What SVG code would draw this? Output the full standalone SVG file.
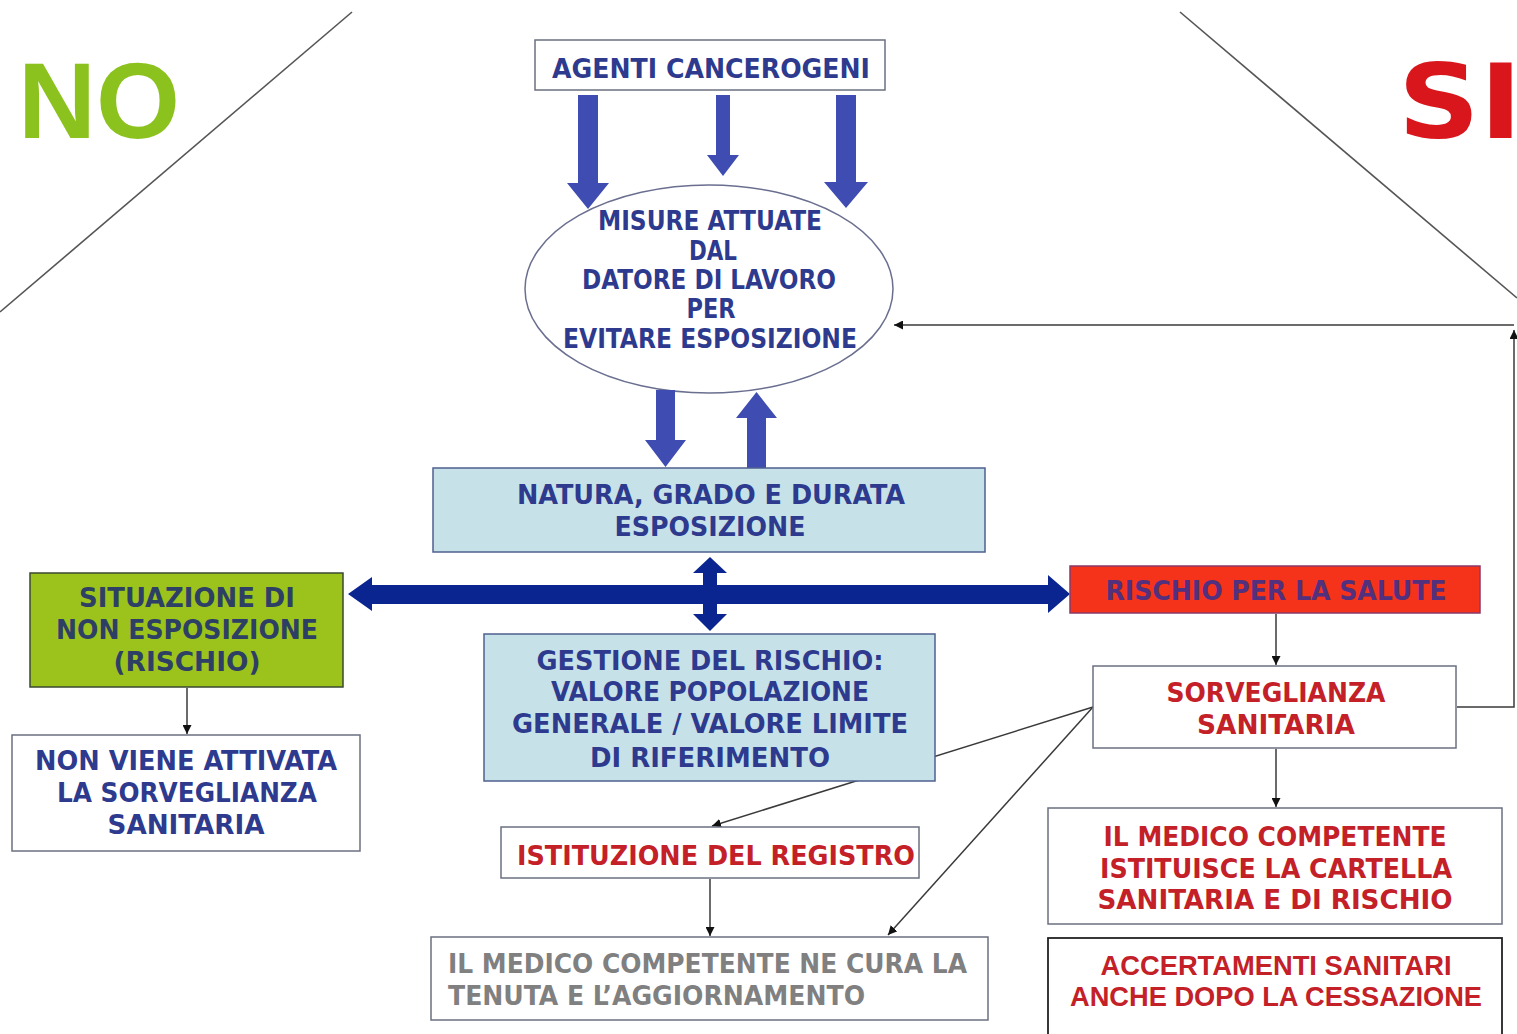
<svg xmlns="http://www.w3.org/2000/svg" width="1517" height="1034" viewBox="0 0 1517 1034">
<defs>
<style>
.bx{fill:#fff;stroke:#6b6f80;stroke-width:1.5}
.lb{fill:#c6e2e8;stroke:#4f6090;stroke-width:1.5}
.t{font-family:"DejaVu Sans Condensed","DejaVu Sans",sans-serif;font-stretch:condensed;font-weight:bold;font-size:27px;text-anchor:middle}
.navy{fill:#2d3a8e}
.red{fill:#c42028}
.gray{fill:#808080}
.big{fill:#3f4cb2}
.dk{fill:#0b2590}
.thin{fill:none;stroke:#3a3a3a;stroke-width:1.5}
.diag{fill:none;stroke:#555;stroke-width:1.6}
</style>
<marker id="ah" viewBox="0 0 10 10" refX="10" refY="5" markerWidth="9" markerHeight="9" markerUnits="userSpaceOnUse" orient="auto">
<path d="M0,0 L10,5 L0,10 z" fill="#111"/>
</marker>
</defs>
<rect width="1517" height="1034" fill="#fff"/>

<g id="decor">
<line class="diag" x1="0" y1="312" x2="352" y2="12"/>
<line class="diag" x1="1180" y1="12" x2="1517" y2="298"/>
<text x="18" y="138" font-family="Liberation Sans, Arial, sans-serif" font-weight="bold" font-size="108" fill="#8cc21e">NO</text>
<text x="1398" y="138" font-family="DejaVu Sans, Verdana, sans-serif" font-weight="bold" font-size="104" fill="#d8161c" textLength="124" lengthAdjust="spacingAndGlyphs">SI</text>
</g>

<g id="misure">
<ellipse cx="709" cy="289" rx="184" ry="104" fill="none" stroke="#6a6f90" stroke-width="1.5"/>
<text class="t navy" font-size="24" x="710" y="230" textLength="224" lengthAdjust="spacingAndGlyphs">MISURE ATTUATE</text>
<text class="t navy" font-size="24" x="713" y="260" textLength="48" lengthAdjust="spacingAndGlyphs">DAL</text>
<text class="t navy" font-size="24" x="709" y="289" textLength="254" lengthAdjust="spacingAndGlyphs">DATORE DI LAVORO</text>
<text class="t navy" font-size="24" x="711" y="318" textLength="49" lengthAdjust="spacingAndGlyphs">PER</text>
<text class="t navy" font-size="24" x="710" y="348" textLength="294" lengthAdjust="spacingAndGlyphs">EVITARE ESPOSIZIONE</text>
</g>

<g id="connectors">
<polygon class="big" points="578,95 598,95 598,183 609,183 588,209 567,183 578,183"/>
<polygon class="big" points="716,95 730,95 730,155 739,155 723,176 707,155 716,155"/>
<polygon class="big" points="836,95 856,95 856,182 868,182 846,208 824,182 836,182"/>
<polygon class="big" points="656,390 675,390 675,440 686,440 665.5,467 645,440 656,440"/>
<polygon class="big" points="747,469 766,469 766,418 777,418 756.5,392 736,418 747,418"/>
<polygon class="dk" points="348,594 372,577 372,585 1048,585 1048,575 1070,594 1048,613 1048,604 372,604 372,611"/>
<polygon class="dk" points="710,557 727,573 717,573 717,614 727,614 710,631 693,614 703,614 703,573 693,573"/>
<line class="thin" x1="187" y1="688" x2="187" y2="734" marker-end="url(#ah)"/>
<line class="thin" x1="1276" y1="614" x2="1276" y2="665" marker-end="url(#ah)"/>
<line class="thin" x1="1276" y1="749" x2="1276" y2="807" marker-end="url(#ah)"/>
<line class="thin" x1="710" y1="879" x2="710" y2="936" marker-end="url(#ah)"/>
<line class="thin" x1="1093" y1="707" x2="712" y2="826" marker-end="url(#ah)"/>
<line class="thin" x1="1093" y1="707" x2="888" y2="935" marker-end="url(#ah)"/>
<path class="thin" d="M1457,707 H1514 V330" marker-end="url(#ah)"/>
<line class="thin" x1="1514" y1="325" x2="894" y2="325" stroke="#777" marker-end="url(#ah)"/>
</g>

<g id="agenti">
<rect class="bx" x="535" y="40" width="350" height="50"/>
<text class="t navy" x="711" y="78" textLength="318" lengthAdjust="spacingAndGlyphs">AGENTI CANCEROGENI</text>
</g>

<g id="natura">
<rect class="lb" x="433" y="468" width="552" height="84"/>
<text class="t navy" x="711" y="504" textLength="388" lengthAdjust="spacingAndGlyphs">NATURA, GRADO  E DURATA</text>
<text class="t navy" x="710" y="536" textLength="191" lengthAdjust="spacingAndGlyphs">ESPOSIZIONE</text>
</g>

<g id="situazione">
<rect x="30" y="573" width="313" height="114" fill="#9cc31c" stroke="#3a4a30" stroke-width="1.5"/>
<text class="t" fill="#2e3f66" x="187" y="607" textLength="216" lengthAdjust="spacingAndGlyphs">SITUAZIONE DI</text>
<text class="t" fill="#2e3f66" x="187" y="639" textLength="262" lengthAdjust="spacingAndGlyphs">NON ESPOSIZIONE</text>
<text class="t" fill="#2e3f66" x="187" y="671" textLength="147" lengthAdjust="spacingAndGlyphs">(RISCHIO)</text>
</g>

<g id="nonviene">
<rect class="bx" x="12" y="735" width="348" height="116"/>
<text class="t navy" x="186" y="770" textLength="302" lengthAdjust="spacingAndGlyphs">NON VIENE ATTIVATA</text>
<text class="t navy" x="187" y="802" textLength="260" lengthAdjust="spacingAndGlyphs">LA SORVEGLIANZA</text>
<text class="t navy" x="186" y="834" textLength="157" lengthAdjust="spacingAndGlyphs">SANITARIA</text>
</g>

<g id="gestione">
<rect class="lb" x="484" y="634" width="451" height="147"/>
<text class="t navy" x="710" y="670" textLength="347" lengthAdjust="spacingAndGlyphs">GESTIONE DEL RISCHIO:</text>
<text class="t navy" x="710" y="701" textLength="318" lengthAdjust="spacingAndGlyphs">VALORE POPOLAZIONE</text>
<text class="t navy" x="710" y="733" textLength="396" lengthAdjust="spacingAndGlyphs">GENERALE / VALORE LIMITE</text>
<text class="t navy" x="710" y="767" textLength="240" lengthAdjust="spacingAndGlyphs">DI RIFERIMENTO</text>
</g>

<g id="rischio">
<rect x="1070" y="566" width="410" height="47" fill="#f5321a" stroke="#8a3a6a" stroke-width="1.5"/>
<text class="t" fill="#52307e" x="1276" y="600" textLength="341" lengthAdjust="spacingAndGlyphs">RISCHIO PER LA SALUTE</text>
</g>

<g id="sorveglianza">
<rect class="bx" x="1093" y="666" width="363" height="82"/>
<text class="t red" x="1276" y="702" textLength="219" lengthAdjust="spacingAndGlyphs">SORVEGLIANZA</text>
<text class="t red" x="1276" y="734" textLength="158" lengthAdjust="spacingAndGlyphs">SANITARIA</text>
</g>

<g id="cartella">
<rect class="bx" x="1048" y="808" width="454" height="116"/>
<text class="t red" x="1275" y="846" textLength="343" lengthAdjust="spacingAndGlyphs">IL MEDICO COMPETENTE</text>
<text class="t red" x="1276" y="878" textLength="352" lengthAdjust="spacingAndGlyphs">ISTITUISCE LA CARTELLA</text>
<text class="t red" x="1275" y="909" textLength="355" lengthAdjust="spacingAndGlyphs">SANITARIA E DI RISCHIO</text>
</g>

<g id="accertamenti">
<rect x="1048" y="938" width="454" height="110" fill="#fff" stroke="#222" stroke-width="1.8"/>
<text x="1276" y="975" font-family="Liberation Sans, Arial, sans-serif" font-weight="bold" font-size="28" text-anchor="middle" fill="#c42028" textLength="351" lengthAdjust="spacingAndGlyphs">ACCERTAMENTI SANITARI</text>
<text x="1276" y="1006" font-family="Liberation Sans, Arial, sans-serif" font-weight="bold" font-size="28" text-anchor="middle" fill="#c42028" textLength="412" lengthAdjust="spacingAndGlyphs">ANCHE DOPO LA CESSAZIONE</text>
</g>

<g id="registro">
<rect class="bx" x="501" y="827" width="418" height="51"/>
<text class="t red" x="716" y="865" textLength="398" lengthAdjust="spacingAndGlyphs">ISTITUZIONE DEL REGISTRO</text>
</g>

<g id="tenuta">
<rect class="bx" x="431" y="937" width="557" height="83"/>
<text class="t gray" style="text-anchor:start" x="448" y="973" textLength="519" lengthAdjust="spacingAndGlyphs">IL MEDICO COMPETENTE NE CURA LA</text>
<text class="t gray" style="text-anchor:start" x="448" y="1005" textLength="417" lengthAdjust="spacingAndGlyphs">TENUTA E L’AGGIORNAMENTO</text>
</g>
</svg>
